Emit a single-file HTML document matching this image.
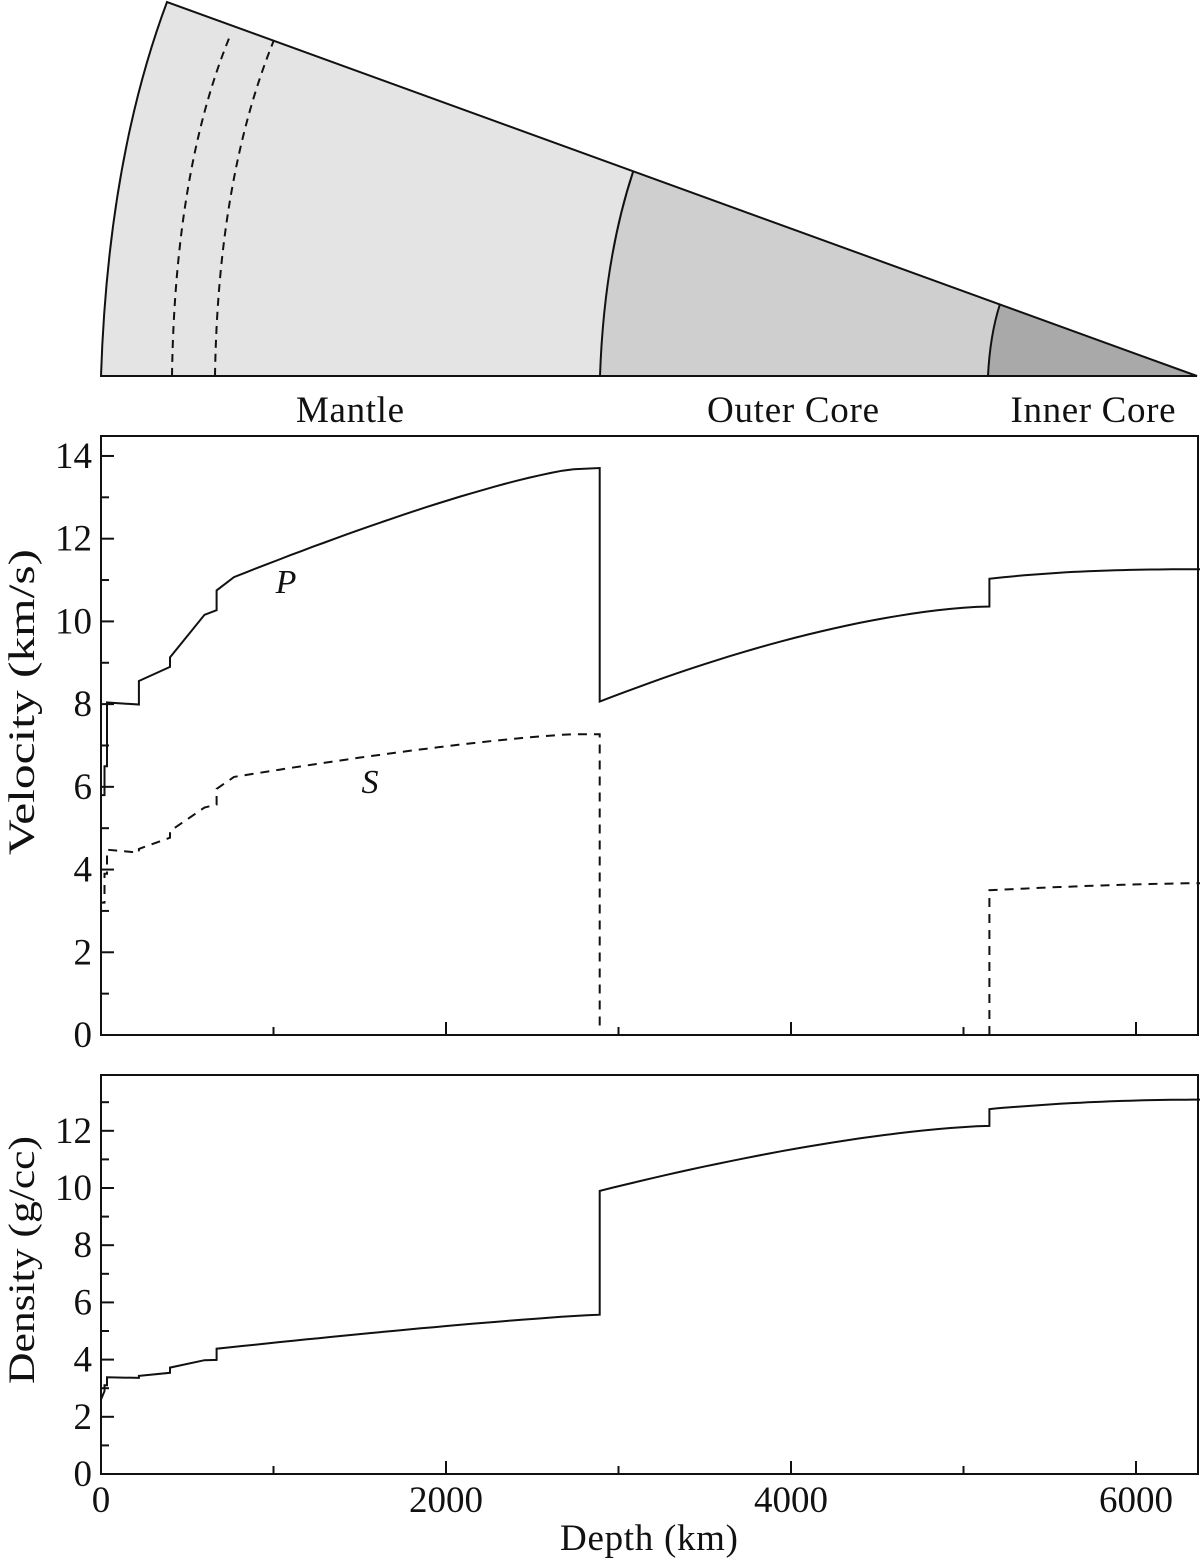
<!DOCTYPE html>
<html><head><meta charset="utf-8"><style>
html,body{margin:0;padding:0;background:#fff}
svg{display:block}
text{font-family:"Liberation Serif",serif;fill:#111}
</style></head><body>
<svg id="s" width="1200" height="1559" viewBox="0 0 1200 1559" xmlns="http://www.w3.org/2000/svg">
<path d="M101,376 Q108,160 167,2 L633,172 Q604,260 600,376 Z" fill="#e4e4e4"/>
<path d="M600,376 Q604,260 633,172 L1000,304 Q990,335 988,376 Z" fill="#cfcfcf"/>
<path d="M988,376 Q990,335 1000,304 L1197,376 Z" fill="#a9a9a9"/>
<g fill="none" stroke="#111" stroke-width="2">
<path d="M101,376 Q108,160 167,2 L1197,376 Z"/>
<path d="M600,376 Q604,260 633,172"/>
<path d="M988,376 Q990,335 1000,304"/>
<path d="M172,376 Q175,170 230,36" stroke-dasharray="8,6"/>
<path d="M215,376 Q218,178 274,40" stroke-dasharray="8,6"/>
</g>
<text x="350" y="422" font-size="37" text-anchor="middle" textLength="108">Mantle</text>
<text x="793" y="422" font-size="37" text-anchor="middle" textLength="172">Outer Core</text>
<text x="1093" y="422" font-size="37" text-anchor="middle" textLength="165">Inner Core</text>
<rect x="101" y="436" width="1097" height="599" fill="none" stroke="#111" stroke-width="2"/>
<rect x="101" y="1075" width="1097" height="399" fill="none" stroke="#111" stroke-width="2"/>
<g id="g" fill="none" stroke="#111" stroke-width="2"></g>
<text x="286" y="593" font-size="34" font-style="italic" text-anchor="middle">P</text>
<text x="370" y="793" font-size="34" font-style="italic" text-anchor="middle">S</text>
<text transform="translate(34,702) rotate(-90)" font-size="37" text-anchor="middle" textLength="306" lengthAdjust="spacingAndGlyphs">Velocity (km/s)</text>
<text transform="translate(34,1260) rotate(-90)" font-size="37" text-anchor="middle" textLength="248" lengthAdjust="spacingAndGlyphs">Density (g/cc)</text>
<text x="649" y="1550" font-size="37" text-anchor="middle" textLength="178" lengthAdjust="spacing">Depth (km)</text>
</svg>
<script>
var g=document.getElementById('g'),s=document.getElementById('s');
function X(d){return 101+d*0.1725}
function VY(v){return 1035-v*41.36}
function DY(v){return 1474-v*28.6}
function pl(pts,fy,dash){var p=document.createElementNS('http://www.w3.org/2000/svg','polyline');
p.setAttribute('points',pts.map(function(a){return X(a[0]).toFixed(1)+','+fy(a[1]).toFixed(1)}).join(' '));
if(dash)p.setAttribute('stroke-dasharray','9,7');g.appendChild(p);}
function ln(x1,y1,x2,y2){var p=document.createElementNS('http://www.w3.org/2000/svg','line');
p.setAttribute('x1',x1);p.setAttribute('y1',y1);p.setAttribute('x2',x2);p.setAttribute('y2',y2);g.appendChild(p);}
function tx(x,y,t,a){var e=document.createElementNS('http://www.w3.org/2000/svg','text');
e.setAttribute('x',x);e.setAttribute('y',y);e.setAttribute('font-size','37');e.setAttribute('text-anchor',a);e.textContent=t;s.appendChild(e);}
function cv(d0,v0,d1,v1,k){var r=[];for(var i=0;i<=30;i++){var t=i/30;r.push([d0+(d1-d0)*t,v0+(v1-v0)*(1-Math.pow(1-t,k))]);}return r;}
var P=[[0,5.8],[20,5.8],[20,6.5],[35,6.5],[35,8.04],[220,7.99],[220,8.56],[400,8.9],[400,9.13],[600,10.16],[670,10.27],[670,10.75],[771,11.07]]
.concat(cv(771,11.07,2740,13.68,1.25)).concat([[2891,13.71],[2891,8.06]]).concat(cv(2891,8.06,5150,10.36,1.6)).concat([[5150,11.03]]).concat(cv(5150,11.03,6371,11.26,2.5));
pl(P,VY);
var S=[[0,0.4],[0,3.2],[20,3.2],[20,3.9],[35,3.9],[35,4.48],[220,4.41],[220,4.5],[400,4.77],[400,4.93],[600,5.5],[670,5.57],[670,5.95],[771,6.24]]
.concat(cv(771,6.24,2740,7.27,1.3)).concat([[2891,7.27],[2891,0.2]]);
pl(S,VY,1);
pl([[5150,0],[5150,3.5]].concat(cv(5150,3.5,6371,3.67,1.5)),VY,1);
var D=[[0,2.6],[20,2.9],[20,3.1],[35,3.1],[35,3.38],[220,3.36],[220,3.43],[400,3.54],[400,3.72],[600,3.98],[670,3.99],[670,4.38]]
.concat(cv(670,4.38,2891,5.57,1.2)).concat([[2891,9.9]]).concat(cv(2891,9.9,5150,12.17,1.5)).concat([[5150,12.76]]).concat(cv(5150,12.76,6371,13.09,2));
pl(D,DY);
for(var v=0;v<=14;v++){var y=VY(v);ln(101,y,101+(v%2?8:13),y);if(v%2==0)tx(92,y+12,v,'end');}
for(var v=0;v<=13;v++){var y=DY(v);ln(101,y,101+(v%2?8:13),y);if(v%2==0)tx(92,y+12,v,'end');}
for(var d=1000;d<=6000;d+=1000){var x=X(d);var L=d%2000?8:13;ln(x,1035,x,1035-L);ln(x,1474,x,1474-L);}
for(var d=0;d<=6000;d+=2000){tx(X(d),1512,d,'middle');}
</script>
</body></html>
